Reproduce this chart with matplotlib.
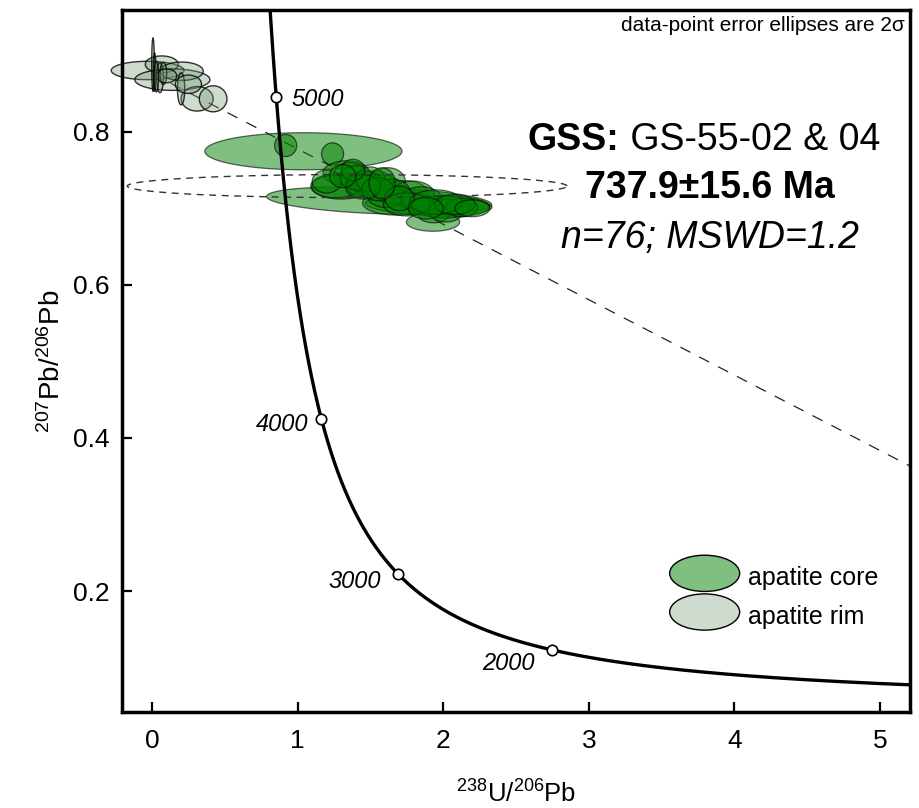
import numpy as np
import matplotlib
matplotlib.use('Agg')
import matplotlib.pyplot as plt
from matplotlib.patches import Polygon, Ellipse
from matplotlib.legend_handler import HandlerPatch

# ---------------- data ----------------
# decay constants (per Ma) and present-day 238U/235U
L238 = 1.55125e-4
L235 = 9.8485e-4
U85 = 137.818

concordia_ages = [2000, 3000, 4000, 5000]
age_labels = ['2000', '3000', '4000', '5000']

# apatite core ellipses: centre, 2-sigma half widths, correlation
core_x = [1.04, 0.918, 1.24, 1.56, 1.90, 1.30, 1.93, 1.335, 1.36, 1.264, 1.463, 1.525,
          1.583, 1.62, 1.738, 1.686, 2.033, 2.00, 1.933, 2.02, 1.79, 1.61, 2.127, 1.463,
          1.40, 1.50, 1.65, 1.85, 1.75, 1.55, 1.95, 1.45, 2.08, 1.70, 1.38, 1.20, 1.58,
          1.88, 1.31, 2.20]
core_y = [0.7745, 0.782, 0.771, 0.710, 0.704, 0.729, 0.682, 0.746, 0.744, 0.7285, 0.731, 0.731,
          0.7275, 0.735, 0.720, 0.707, 0.702, 0.702, 0.693, 0.697, 0.7176, 0.716, 0.701, 0.735,
          0.740, 0.738, 0.722, 0.712, 0.705, 0.725, 0.708, 0.728, 0.705, 0.713, 0.750, 0.735, 0.733,
          0.700, 0.742, 0.700]
core_sx = [0.677, 0.076, 0.076, 0.773, 0.435, 0.21, 0.183, 0.161, 0.11, 0.166, 0.13, 0.14,
           0.13, 0.12, 0.16, 0.24, 0.286, 0.183, 0.11, 0.12, 0.15, 0.13, 0.11, 0.11,
           0.11, 0.10, 0.12, 0.14, 0.16, 0.11, 0.18, 0.12, 0.14, 0.10, 0.08, 0.10, 0.09,
           0.12, 0.09, 0.12]
core_sy = [0.0242, 0.0144, 0.0144, 0.018, 0.013, 0.017, 0.012, 0.016, 0.016, 0.015, 0.017, 0.018,
           0.016, 0.018, 0.016, 0.016, 0.014, 0.015, 0.012, 0.015, 0.018, 0.015, 0.012, 0.014,
           0.016, 0.016, 0.016, 0.016, 0.015, 0.015, 0.016, 0.016, 0.013, 0.016, 0.014, 0.015, 0.020,
           0.014, 0.015, 0.011]
core_rho = [0.0, 0.0, 0.0, -0.3, -0.2] + [0.0] * 35

# apatite rim ellipses
rim_x = [-0.03, 0.067, 0.14, 0.204, 0.31, 0.42, 0.007, 0.018, 0.055, 0.078, 0.20, 0.10, 0.03, 0.25]
rim_y = [0.880, 0.888, 0.868, 0.879, 0.843, 0.843, 0.8876, 0.878, 0.8706, 0.876, 0.856, 0.873, 0.872, 0.862]
rim_sx = [0.25, 0.113, 0.258, 0.148, 0.11, 0.095, 0.009, 0.009, 0.023, 0.023, 0.025, 0.07, 0.015, 0.09]
rim_sy = [0.012, 0.011, 0.014, 0.012, 0.016, 0.017, 0.035, 0.025, 0.0196, 0.0144, 0.021, 0.009, 0.02, 0.012]
rim_rho = [0.0] * 14

# discordia (common-Pb intercept and lower-intercept age)
upper_intercept = 0.876
lower_age = 737.9
# intercept error ellipse
int_x, int_y, int_sx, int_sy = 1.34, 0.729, 1.51, 0.015

# ---------------- style ----------------
SANS = ['Liberation Sans', 'DejaVu Sans']
plt.rcParams['font.family'] = SANS
plt.rcParams['mathtext.fontset'] = 'custom'
plt.rcParams['mathtext.rm'] = 'Liberation Sans'
plt.rcParams['mathtext.it'] = 'Liberation Sans:italic'
plt.rcParams['mathtext.bf'] = 'Liberation Sans:bold'

core_face = (0.0, 0.5, 0.0, 0.5)
rim_face = (0.45, 0.6, 0.45, 0.35)
core_edge = (0, 0, 0, 0.6)
rim_edge = (0, 0, 0, 0.8)


def tw(age):
    x = 1.0 / (np.exp(L238 * age) - 1.0)
    y = (np.exp(L235 * age) - 1.0) / (np.exp(L238 * age) - 1.0) / U85
    return x, y


def ellipse_xy(cx, cy, sx, sy, rho, n=120):
    t = np.linspace(0, 2 * np.pi, n)
    xs = cx + sx * np.cos(t)
    ys = cy + sy * (rho * np.cos(t) + np.sqrt(1 - rho ** 2) * np.sin(t))
    return np.column_stack([xs, ys])


fig = plt.figure(figsize=(9.2, 8.08), dpi=100)
ax = fig.add_axes([122 / 920, 1 - 712 / 808, (910 - 122) / 920, (712 - 10) / 808])
ax.set_xlim(-0.206, 5.206)
ax.set_ylim(0.042, 0.959)

# intercept ellipse (dashed)
ax.add_patch(Polygon(ellipse_xy(int_x, int_y, int_sx, int_sy, 0.0), closed=True,
                     fill=False, edgecolor='#333333', lw=1.0, linestyle=(0, (5, 4)), zorder=4))

# discordia line
lx, ly = tw(lower_age)
xs = np.array([0.0, 5.3])
ys = upper_intercept + (ly - upper_intercept) * xs / lx
ax.plot(xs, ys, color='#222222', lw=0.9, linestyle=(0, (9, 8)), zorder=1)

# rim ellipses
for cx, cy, sx, sy, r in zip(rim_x, rim_y, rim_sx, rim_sy, rim_rho):
    ax.add_patch(Polygon(ellipse_xy(cx, cy, sx, sy, r), closed=True, facecolor=rim_face,
                         edgecolor=rim_edge, lw=1.0, zorder=2, clip_on=False))

# core ellipses
for cx, cy, sx, sy, r in zip(core_x, core_y, core_sx, core_sy, core_rho):
    ax.add_patch(Polygon(ellipse_xy(cx, cy, sx, sy, r), closed=True, facecolor=core_face,
                         edgecolor=core_edge, lw=0.9, zorder=3))

# concordia curve
ages = np.linspace(1000, 5700, 800)
cx_, cy_ = tw(ages)
ax.plot(cx_, cy_, color='black', lw=2.4, zorder=5)
mx, my = tw(np.array(concordia_ages, dtype=float))
ax.plot(mx, my, 'o', ms=7.5, mfc='white', mec='black', mew=1.2, zorder=6)
offsets = {'5000': (11, -2, 'left'), '4000': (-9, -4, 'right'),
           '3000': (-12, -6, 'right'), '2000': (-13, -10, 'right')}
for x, y, lab in zip(mx, my, age_labels):
    dx, dy, ha = offsets[lab]
    ax.annotate(lab, (x, y), xytext=(dx, dy), textcoords='offset points', ha=ha, va='center',
                fontsize=17, style='italic', zorder=7)

# axes styling
for s in ax.spines.values():
    s.set_linewidth(2.5)
ax.set_xticks([0, 1, 2, 3, 4, 5])
ax.set_yticks([0.2, 0.4, 0.6, 0.8])
ax.set_yticklabels(['0.2', '0.4', '0.6', '0.8'])
ax.tick_params(direction='in', length=7, width=1.6, labelsize=19)
ax.tick_params(axis='x', pad=12)
ax.tick_params(axis='y', pad=9)
ax.set_xlabel(r'$\mathrm{^{238}U/^{206}Pb}$', fontsize=18.5, labelpad=20)
ax.set_ylabel(r'$\mathrm{^{207}Pb/^{206}Pb}$', fontsize=20, labelpad=5)

# annotation text
ax.text(0.993, 0.992, 'data-point error ellipses are 2\u03c3', transform=ax.transAxes,
        ha='right', va='top', fontsize=15)
t1 = ax.text(0.515, 0.815, 'GSS:', transform=ax.transAxes, ha='left', va='center',
             fontsize=27, fontweight='bold')
ax.annotate(' GS-55-02 & 04', xy=(1, 0), xycoords=t1, ha='left', va='bottom', fontsize=27)
ax.text(0.746, 0.746, '737.9\u00b115.6 Ma', transform=ax.transAxes, ha='center', va='center',
        fontsize=27, fontweight='bold')
ax.text(0.746, 0.675, 'n=76; MSWD=1.2', transform=ax.transAxes, ha='center', va='center',
        fontsize=27, style='italic')


class HandlerEllipse(HandlerPatch):
    def create_artists(self, legend, orig_handle, xdescent, ydescent, width, height, fontsize, trans):
        center = 0.5 * width - 0.5 * xdescent, 0.5 * height - 0.5 * ydescent
        p = Ellipse(xy=center, width=width + xdescent, height=height + ydescent)
        self.update_prop(p, orig_handle, legend)
        p.set_transform(trans)
        return [p]


h_core = Ellipse((0, 0), 1, 1, facecolor=core_face, edgecolor='black', lw=1.0)
h_rim = Ellipse((0, 0), 1, 1, facecolor=rim_face, edgecolor='black', lw=1.0)
leg = ax.legend([h_core, h_rim], ['apatite core', 'apatite rim'],
                handler_map={Ellipse: HandlerEllipse()}, loc='upper left',
                bbox_to_anchor=(0.695, 0.214), frameon=False, handlelength=2.8,
                handleheight=1.45, handletextpad=0.32, labelspacing=0.36,
                borderpad=0, borderaxespad=0, prop={'size': 18})

fig.savefig('out.png', dpi=100)
